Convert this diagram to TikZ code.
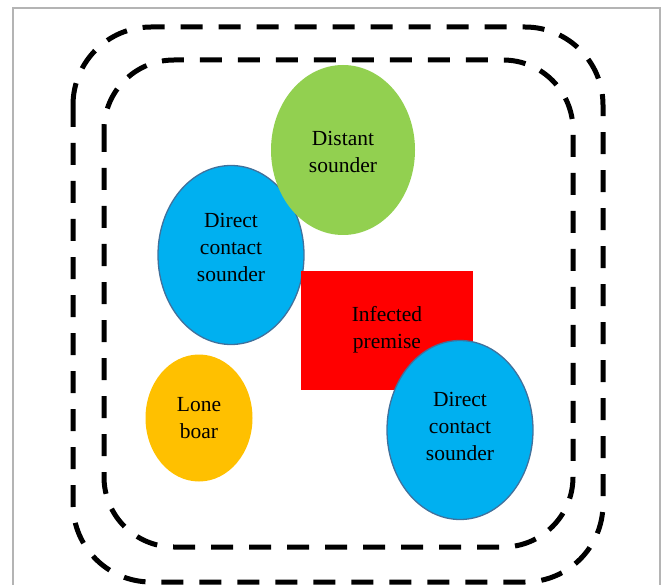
\documentclass[tikz,border=0pt]{standalone}
\usepackage{fontspec}
\setmainfont{Liberation Serif}
\usepackage{xcolor}
\usepackage{tikz}
\usetikzlibrary{shapes.geometric}

\definecolor{sndgreen}{HTML}{92D050}
\definecolor{sndblue}{HTML}{00B0F0}
\definecolor{sndedge}{HTML}{41719C}
\definecolor{boaryellow}{HTML}{FFC000}
\definecolor{framegray}{HTML}{B4B4B4}

\begin{document}
\begin{tikzpicture}[x=1pt,y=-1pt,
	zone/.style={draw=black, line width=5pt, dash pattern=on 22pt off 16pt},
	herdtext/.style={align=center, inner sep=0pt, font=\fontsize{21.5}{27}\selectfont},
	herd/.style={ellipse, inner sep=0pt, herdtext},
	sounder/.style={herd, fill=sndblue, draw=sndedge, line width=1.3pt, minimum width=146pt, minimum height=179pt}]
	\useasboundingbox (0,0) rectangle (666,585);
	\draw[framegray, line width=1.2pt] (13,592) -- (13,8) -- (660,8) -- (660,592);
	% control zones
	\draw[zone, rounded corners=78pt] (73,27) rectangle (603,582);
	\draw[zone, rounded corners=70pt] (104,60) rectangle (573,547);
	% herds
	\node[sounder, label={[herdtext, yshift=8pt]center:{Direct\\contact\\sounder}}] (dcsleft) at (231,255) {};
	\node[herd, fill=sndgreen, minimum width=144pt, minimum height=170pt, label={[herdtext, yshift=-2pt]center:{Distant\\sounder}}] (distant) at (343,150) {};
	\node[rectangle, fill=red, minimum width=172pt, minimum height=119pt, herdtext] (infected) at (387,330) {Infected\\premise};
	\node[sounder, label={[herdtext, yshift=4pt]center:{Direct\\contact\\sounder}}] (dcsright) at (460,430) {};
	\node[herd, fill=boaryellow, minimum width=107pt, minimum height=127pt] (boar) at (199,418) {Lone\\boar};
\end{tikzpicture}
\end{document}
